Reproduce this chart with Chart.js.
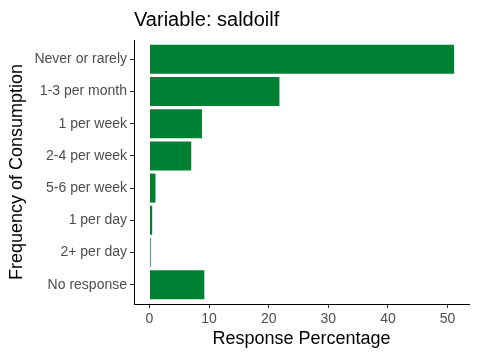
<!DOCTYPE html>
<html>
<head>
<meta charset="utf-8">
<script src="https://cdn.jsdelivr.net/npm/chart.js@4/dist/chart.umd.min.js"></script>
<style>
  html, body { margin: 0; padding: 0; background: #fff; }
  #wrap { width: 480px; height: 360px; }
</style>
</head>
<body>
<div id="wrap"><canvas id="chart"></canvas></div>
<script>
// data
const categories = ["Never or rarely", "1-3 per month", "1 per week", "2-4 per week",
                    "5-6 per week", "1 per day", "2+ per day", "No response"];
const percentages = [51.1, 21.8, 8.8, 7.0, 1.0, 0.45, 0.2, 9.2];
const xTicks = [0, 10, 20, 30, 40, 50];

const fontFamily = "'Liberation Sans', Arial, sans-serif";
const barColor = "rgb(0,128,51)";

// bars on a numeric y scale so the panel gets ggplot's 0.6 band padding
const points = percentages.map((v, i) => ({x: v, y: i + 1}));

const ctx = document.getElementById('chart').getContext('2d');
new Chart(ctx, {
    type: 'bar',
    data: {
        datasets: [{
            data: points,
            backgroundColor: barColor,
            borderWidth: 0,
            barPercentage: 0.9,
            categoryPercentage: 1.0
        }]
    },
    options: {
        indexAxis: 'y',
        responsive: true,
        maintainAspectRatio: false,
        animation: false,
        layout: {padding: {left: 0, right: 11, top: 4, bottom: 6}},
        plugins: {
            legend: {display: false},
            tooltip: {enabled: false},
            title: {
                display: true,
                text: 'Variable: saldoilf',
                align: 'start',
                fullSize: false,
                color: '#000',
                font: {family: fontFamily, size: 20, weight: 'normal'},
                padding: {top: 4, bottom: 8}
            }
        },
        scales: {
            x: {
                type: 'linear',
                min: -2.6,
                max: 53.6,
                afterBuildTicks: scale => {
                    scale.ticks = xTicks.map(v => ({value: v}));
                },
                afterFit: scale => { scale.height = 50; },
                grid: {display: true, drawOnChartArea: false, drawTicks: true, tickLength: 4, color: '#333'},
                border: {display: true, color: '#000', width: 1},
                ticks: {color: '#4d4d4d', padding: 3, font: {family: fontFamily, size: 14}},
                title: {
                    display: true,
                    text: 'Response Percentage',
                    color: '#000',
                    font: {family: fontFamily, size: 18},
                    padding: {top: 2, bottom: 4}
                }
            },
            y: {
                type: 'linear',
                reverse: true,
                offset: false,
                min: 0.4,
                max: 8.6,
                afterBuildTicks: scale => {
                    scale.ticks = categories.map((c, i) => ({value: i + 1}));
                },
                afterFit: scale => { scale.width = 134; },
                grid: {display: true, offset: false, drawOnChartArea: false, drawTicks: true, tickLength: 4, color: '#333'},
                border: {display: true, color: '#000', width: 1},
                ticks: {
                    color: '#4d4d4d',
                    padding: 3,
                    autoSkip: false,
                    font: {family: fontFamily, size: 14},
                    callback: v => categories[v - 1]
                },
                title: {
                    display: true,
                    text: 'Frequency of Consumption',
                    color: '#000',
                    font: {family: fontFamily, size: 18},
                    padding: {top: 6, bottom: 4}
                }
            }
        }
    }
});
</script>
</body>
</html>
